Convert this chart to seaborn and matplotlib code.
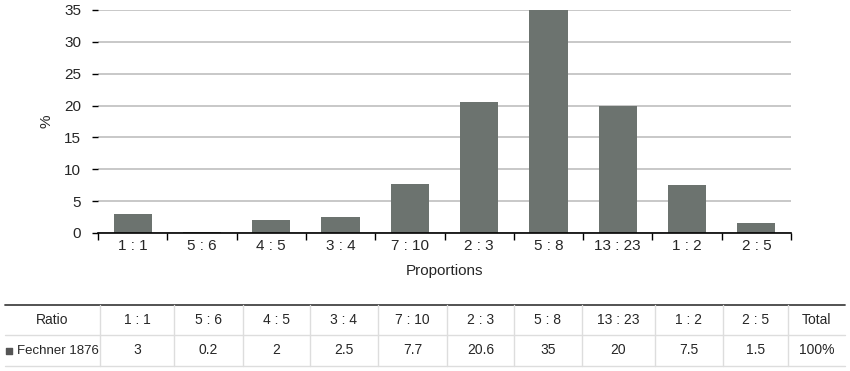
import numpy as np
import pandas as pd
import matplotlib
matplotlib.use("Agg")
import matplotlib.pyplot as plt
import seaborn as sns

ratios = ["1 : 1", "5 : 6", "4 : 5", "3 : 4", "7 : 10", "2 : 3", "5 : 8", "13 : 23", "1 : 2", "2 : 5"]
fechner = [3, 0.2, 2, 2.5, 7.7, 20.6, 35, 20, 7.5, 1.5]
value_labels = ["3", "0.2", "2", "2.5", "7.7", "20.6", "35", "20", "7.5", "1.5"]
series_name = "Fechner 1876"
total_label = "100%"

df = pd.DataFrame({"ratio": ratios, "pct": fechner})

sns.set_style("white")
plt.rcParams["font.family"] = ["Liberation Sans", "DejaVu Sans"]
bar_color = "#6c736f"

fig = plt.figure(figsize=(8.5, 3.71), dpi=100)
W, H = 850, 371
ax = fig.add_axes([98 / W, 1 - 233 / H, (791 - 98) / W, (233 - 10) / H])

sns.barplot(data=df, x="ratio", y="pct", color=bar_color, width=0.55,
            saturation=1, linewidth=0, ax=ax)

ax.set_ylim(0, 35)
ax.set_xlim(-0.5, len(ratios) - 0.5)
ax.set_yticks(range(0, 36, 5))
ax.yaxis.grid(True, color="#bfbfbf", linewidth=1.2)
ax.set_axisbelow(True)
for s in ["top", "right", "left"]:
    ax.spines[s].set_visible(False)
ax.spines["bottom"].set_color("black")
ax.spines["bottom"].set_linewidth(1.2)

ax.set_xticks(np.arange(len(ratios)))
ax.set_xticklabels(ratios, fontsize=11)
ax.tick_params(axis="x", which="major", length=0, pad=4, bottom=True)
ax.set_xticks(np.arange(-0.5, len(ratios)), minor=True)
ax.tick_params(axis="x", which="minor", length=5, width=1, color="black",
               direction="out", bottom=True)
ax.tick_params(axis="y", length=4, width=1, color="black", labelsize=11,
               pad=8, left=True)
ax.set_xlabel("Proportions", fontsize=11, labelpad=8)
ax.set_ylabel("%", fontsize=11, labelpad=8)

# data table under the chart
tax = fig.add_axes([0, 0, 1, 1])
tax.set_xlim(0, W)
tax.set_ylim(H, 0)
tax.axis("off")
cols = [5, 100, 174, 243, 310, 378, 447, 514, 582, 655, 723, 788, 845]
y_top, y_mid, y_bot = 305, 335, 366
tax.plot([cols[0], cols[-1]], [y_top, y_top], color="#444444", lw=1.3)
tax.plot([cols[0], cols[-1]], [y_mid, y_mid], color="#dddddd", lw=1)
tax.plot([cols[0], cols[-1]], [y_bot, y_bot], color="#dddddd", lw=1)
for c in cols[1:-1]:
    tax.plot([c, c], [y_top, y_bot], color="#dddddd", lw=1)

head = ["Ratio"] + ratios + ["Total"]
row = value_labels + [total_label]
ym1 = (y_top + y_mid) / 2
ym2 = (y_mid + y_bot) / 2
for i, txt in enumerate(head):
    xc = (cols[i] + cols[i + 1]) / 2
    tax.text(xc, ym1, txt, ha="center", va="center", fontsize=10)
for i, txt in enumerate(row):
    xc = (cols[i + 1] + cols[i + 2]) / 2
    tax.text(xc, ym2, txt, ha="center", va="center", fontsize=10)
tax.text(17, ym2, series_name, ha="left", va="center", fontsize=9.5)
tax.scatter([9], [ym2], marker="s", s=14, color="#555555")

fig.savefig("out.png", dpi=100)
